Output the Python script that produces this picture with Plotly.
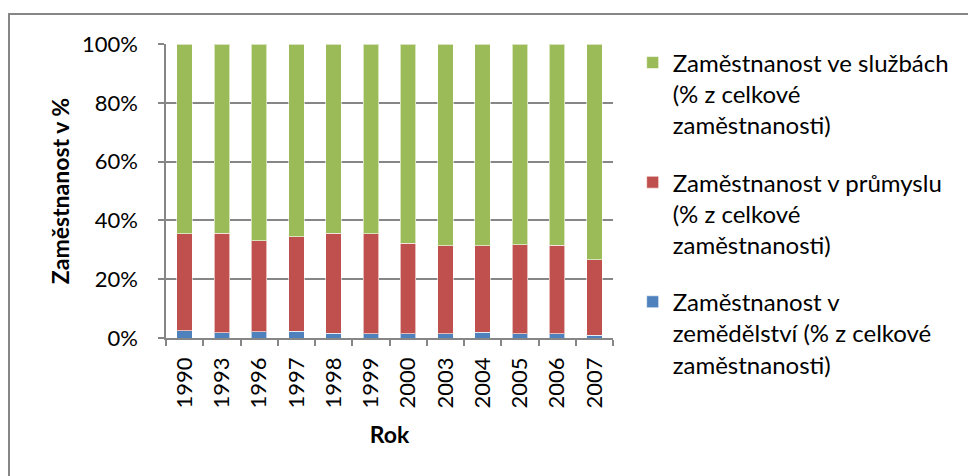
import plotly.graph_objects as go

roky = ["1990", "1993", "1996", "1997", "1998", "1999", "2000", "2003", "2004", "2005", "2006", "2007"]
zemedelstvi = [2.5, 1.8, 2.2, 2.3, 1.6, 1.5, 1.5, 1.5, 2.0, 1.5, 1.5, 0.9]
prumysl = [32.9, 33.9, 30.9, 32.1, 34.1, 33.9, 30.8, 29.9, 29.4, 30.3, 30.0, 25.7]
sluzby = [64.6, 64.3, 66.9, 65.6, 64.3, 64.6, 67.7, 68.6, 68.6, 68.2, 68.5, 73.4]

nazvy = [
    "Zaměstnanost v<br>zemědělství (% z celkové<br>zaměstnanosti)",
    "Zaměstnanost v průmyslu<br>(% z celkové<br>zaměstnanosti)",
    "Zaměstnanost ve službách<br>(% z celkové<br>zaměstnanosti)",
]
barvy = ["#4F81BD", "#C0504D", "#9BBB59"]

FONT = "Lato"

# page body has an 8px margin, so the figure is 8px smaller and everything is shifted
fig = go.Figure()
for i, (vals, name, col) in enumerate(zip([zemedelstvi, prumysl, sluzby], nazvy, barvy)):
    fig.add_trace(go.Bar(
        x=roky, y=vals, name=name, legendgroup=str(i), legendrank=3 - i,
        marker=dict(color=col, line=dict(color="rgba(255,255,255,0.6)", width=1)),
    ))

fig.update_layout(
    barmode="stack",
    barnorm="percent",
    bargap=0.59,
    width=968, height=468,
    margin=dict(l=158, r=363, t=36, b=138, autoexpand=False),
    paper_bgcolor="white",
    plot_bgcolor="white",
    font=dict(family=FONT, size=22, color="black"),
    showlegend=True,
    legend=dict(
        tracegroupgap=23,
        x=1.044, y=1.012, xanchor="left", yanchor="top",
        valign="top",
        maxheight=1000,
        font=dict(family=FONT, size=24, color="black"),
        itemwidth=30,
    ),
    xaxis=dict(
        type="category",
        tickangle=-90,
        automargin=False,
        showline=True, linecolor="#868686", linewidth=1.5,
        ticks="outside", tickson="boundaries", ticklen=6, tickcolor="#868686", tickwidth=1.5,
        ticklabelstandoff=9,
        showgrid=False,
        title=dict(text="<b>Rok</b>", font=dict(family=FONT, size=23), standoff=19),
        tickfont=dict(family=FONT, size=22),
    ),
    yaxis=dict(
        range=[0, 100],
        automargin=False,
        tickvals=[0, 20, 40, 60, 80, 100],
        ticktext=["0%", "20%", "40%", "60%", "80%", "100%"],
        showline=True, linecolor="#868686", linewidth=1.5,
        ticks="outside", ticklen=6, tickcolor="#868686", tickwidth=1.5,
        ticklabelstandoff=16,
        showgrid=True, gridcolor="#868686", gridwidth=1.5,
        zeroline=False,
        title=dict(text="<b>Zaměstnanost v %</b>", font=dict(family=FONT, size=23), standoff=6),
        tickfont=dict(family=FONT, size=22),
    ),
    shapes=[dict(
        type="rect", xref="paper", yref="paper",
        x0=(1 - 158) / 447, x1=(990 - 158) / 447,
        y0=(330 - 490) / 294, y1=(330 - 6) / 294,
        line=dict(color="#868686", width=2), fillcolor="rgba(0,0,0,0)", layer="above",
    )],
)

fig.write_html("out.html")
